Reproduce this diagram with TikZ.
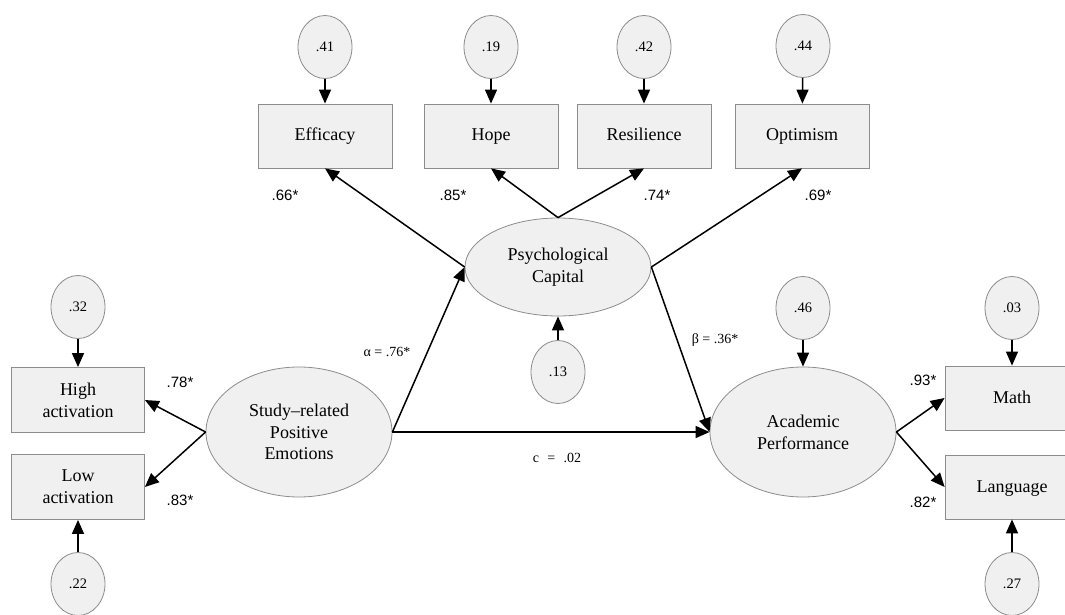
\documentclass[tikz,border=0pt]{standalone}
\usepackage{fontspec}
\setmainfont{Liberation Serif}
\newfontfamily\labfont{Liberation Sans}
\usetikzlibrary{shapes.geometric,arrows.meta}
\definecolor{boxfill}{HTML}{F0F0F0}
\definecolor{boxline}{HTML}{8C8C8C}
\begin{document}
\begin{tikzpicture}[x=1pt,y=-1pt,
  obs/.style={draw=boxline, fill=boxfill, line width=0.8pt, minimum width=134pt, minimum height=64pt, inner sep=0pt, font=\fontsize{18}{22}\selectfont, align=center},
  obsone/.style={obs, text height=12.5pt, text depth=2.5pt},
  lat/.style={ellipse, draw=boxline, fill=boxfill, line width=0.8pt, minimum width=186pt, minimum height=130pt, inner sep=0pt, font=\fontsize{18}{21.7}\selectfont, align=center},
  err/.style={ellipse, draw=boxline, fill=boxfill, line width=0.8pt, minimum width=54pt, minimum height=63pt, inner sep=0pt, font=\fontsize{14.5}{16}\selectfont},
  arr/.style={line width=1.5pt, -{Triangle[length=14pt,width=12pt]}},
  coef/.style={font=\labfont\fontsize{15}{18}\selectfont, inner sep=0pt},
  est/.style={font=\fontsize{14}{16}\selectfont, inner sep=0pt}]
\useasboundingbox (0,0) rectangle (1065,615);
% top indicators
\node[err] (e1) at (325,47) {.41};
\node[err] (e2) at (491,47) {.19};
\node[err] (e3) at (644,47) {.42};
\node[err] (e4) at (803,46) {.44};
\node[obsone] (eff) at (325,136) {Efficacy};
\node[obsone] (hope) at (491,136) {Hope};
\node[obsone] (res) at (644,136) {Resilience};
\node[obsone] (opt) at (802,136) {Optimism};
% latent
\node[lat, minimum height=98pt] (pc) at (558,267) {Psychological\\Capital};
\node[err] (e5) at (558,372) {.13};
\node[lat] (srpe) at (299,432) {Study--related\\Positive\\Emotions};
\node[lat] (ap) at (803,432) {Academic\\Performance};
\node[err] (e6) at (803,308) {.46};
% left indicators
\node[err] (e7) at (78,307) {.32};
\node[obs, minimum width=133pt, minimum height=65pt] (high) at (78,400) {High\\activation};
\node[obs, minimum width=133pt, minimum height=65pt] (low) at (78,487) {Low\\activation};
\node[err] (e8) at (78,584) {.22};
% right indicators
\node[err] (e9) at (1012,308) {.03};
\node[obsone] (math) at (1012,398) {Math};
\node[obsone] (lang) at (1012,487) {Language};
\node[err] (e10) at (1012,584) {.27};
% connectors
\draw[arr] (e1) -- (eff);
\draw[arr] (e2) -- (hope);
\draw[arr] (e3) -- (res);
\draw[arr] (e4) -- (opt);
\draw[arr] (pc.west) -- (eff.south);
\draw[arr] (pc.north) -- (hope.south);
\draw[arr] (pc.north) -- (res.south);
\draw[arr] (pc.east) -- (opt.south);
\draw[arr] (e5) -- (pc);
\draw[arr] (e6) -- (ap);
\draw[arr] (srpe.east) -- (pc.west);
\draw[arr] (pc.east) -- (ap.west);
\draw[arr] (srpe.east) -- (ap.west);
\draw[arr] (e7) -- (high);
\draw[arr] (e8) -- (low);
\draw[arr] (srpe.west) -- (high.east);
\draw[arr] (srpe.west) -- (low.east);
\draw[arr] (e9) -- (math);
\draw[arr] (e10) -- (lang);
\draw[arr] (ap.east) -- (math.west);
\draw[arr] (ap.east) -- (lang.west);
% labels
\node[coef] (l1) at (285,195) {.66*};
\node[coef] (l2) at (453,195) {.85*};
\node[coef] (l3) at (657,195) {.74*};
\node[coef] (l4) at (818,195) {.69*};
\node[coef] (l5) at (180,382) {.78*};
\node[coef] (l6) at (180,500) {.83*};
\node[coef] (l7) at (923,380) {.93*};
\node[coef] (l8) at (923,502) {.82*};
\node[est] (la) at (387,352) {α = .76*};
\node[est] (lb) at (715,340) {β = .36*};
\node[est] (lc) at (557,458) {c\hspace{0.6em}=\hspace{0.6em}.02};
\end{tikzpicture}
\end{document}
